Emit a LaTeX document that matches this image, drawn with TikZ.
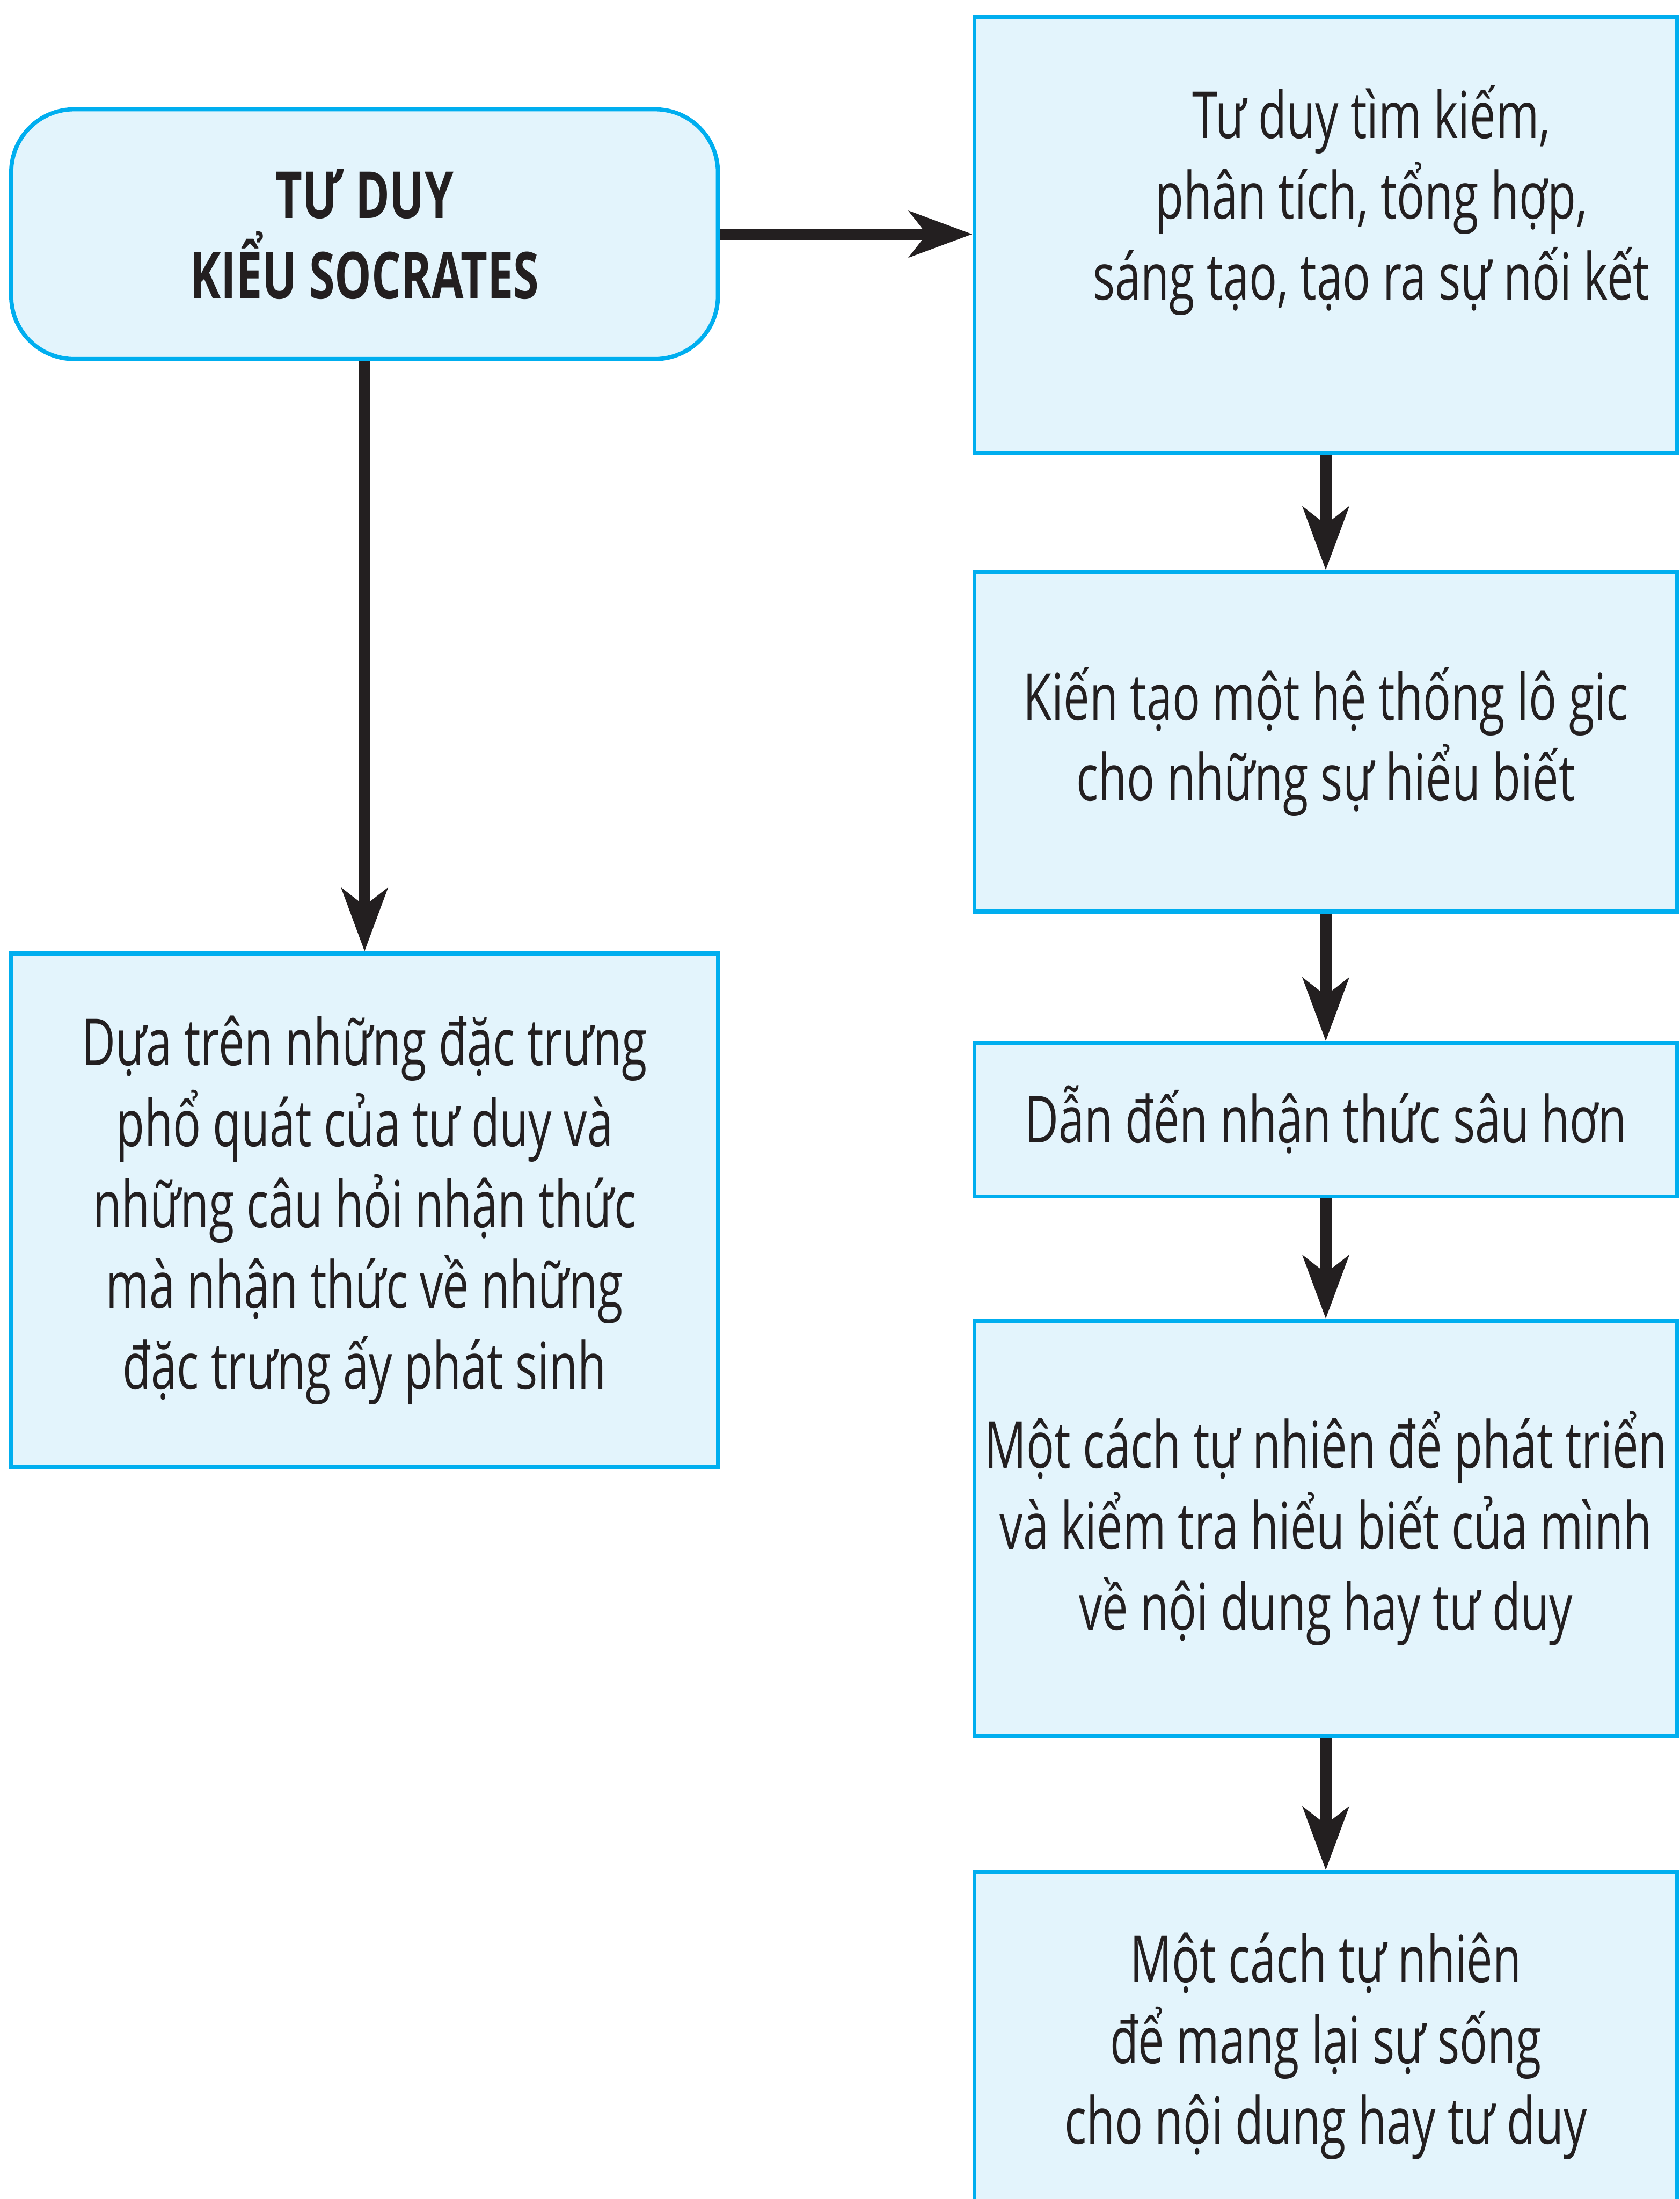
\documentclass[tikz,border=0pt]{standalone}
\usepackage{fontspec}
\setmainfont{Open Sans}[FakeStretch=0.715]
\usetikzlibrary{arrows.meta}
\definecolor{boxline}{HTML}{00AEEF}
\definecolor{boxfill}{HTML}{E3F4FC}
\definecolor{ink}{HTML}{231F20}
\begin{document}
\begin{tikzpicture}[
  every node/.style={font=\fontsize{23.5}{29.3}\selectfont, text=ink, align=center},
  box/.style={draw=boxline, fill=boxfill, line width=1.5pt, minimum width=8.95cm, inner sep=0pt},
  start/.style={box, rounded corners=0.8cm, minimum width=9cm, font=\fontsize{23.5}{29.3}\selectfont\bfseries},
  link/.style={draw=ink, line width=4.1pt, -{Stealth[length=0.8cm, width=0.58cm, inset=0.22cm]}}
]
\useasboundingbox (0,0) rectangle (21.39,28);
\clip (0,0) rectangle (21.39,28);
\node[start, minimum height=3.18cm] (socrates) at (4.643,25.018) {TƯ DUY\\KIỂU SOCRATES};
\node[box, minimum width=9cm, minimum height=6.54cm] (basis) at (4.643,12.589)
  {Dựa trên những đặc trưng\\phổ quát của tư duy và\\những câu hỏi nhận thức\\mà nhận thức về những\\đặc trưng ấy phát sinh};
\node[box, minimum height=5.55cm,
  label={[shift={(0.58,0.44)}, align=center]center:Tư duy tìm kiếm,\\phân tích, tổng hợp,\\sáng tạo, tạo ra sự nối kết}]
  (search) at (16.885,25.009) {};
\node[box, minimum height=4.32cm] (logic) at (16.885,18.554)
  {Kiến tạo một hệ thống lô gic\\cho những sự hiểu biết};
\node[box, minimum height=1.95cm] (deeper) at (16.885,13.741) {Dẫn đến nhận thức sâu hơn};
\node[box, minimum height=5.29cm] (develop) at (16.885,8.536)
  {Một cách tự nhiên để phát triển\\và kiểm tra hiểu biết của mình\\về nội dung hay tư duy};
\node[box, minimum height=4.43cm] (alive) at (16.885,1.946)
  {Một cách tự nhiên\\để mang lại sự sống\\cho nội dung hay tư duy};
\draw[link] (socrates.east) -- (socrates.east -| search.west);
\draw[link] (socrates.south) -- (basis.north);
\draw[link] (search.south) -- (logic.north);
\draw[link] (logic.south) -- (deeper.north);
\draw[link] (deeper.south) -- (develop.north);
\draw[link] (develop.south) -- (alive.north);
\end{tikzpicture}
\end{document}
